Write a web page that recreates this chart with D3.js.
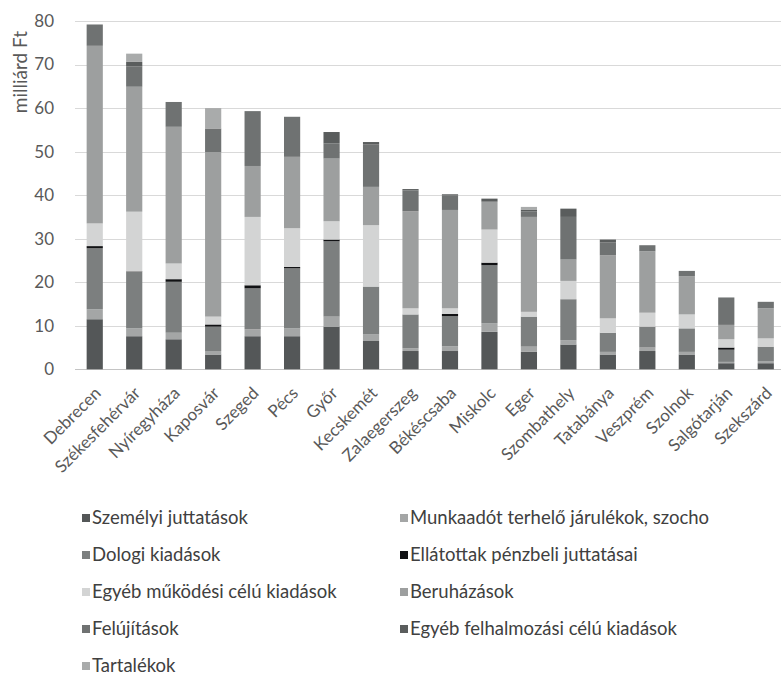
<!DOCTYPE html>
<html>
<head>
<meta charset="utf-8">
<script src="https://cdn.jsdelivr.net/npm/d3@7"></script>
<style>
  html, body { margin: 0; padding: 0; background: #ffffff; }
  svg { display: block; }
  text { font-family: Lato, "Open Sans", "Noto Sans", sans-serif; }
</style>
</head>
<body>
<svg id="chart" width="781" height="676"></svg>
<script>
// Cities (x axis)
const cities = ["Debrecen", "Székesfehérvár", "Nyíregyháza", "Kaposvár", "Szeged", "Pécs", "Győr",
  "Kecskemét", "Zalaegerszeg", "Békéscsaba", "Miskolc", "Eger", "Szombathely", "Tatabánya",
  "Veszprém", "Szolnok", "Salgótarján", "Szekszárd"];

// Expenditure items, billion Ft, stacked bottom to top
const szemelyi      = [11.5, 7.6, 6.9, 3.4, 7.6, 7.6, 9.8, 6.5, 4.2, 4.2, 8.6, 4.0, 5.7, 3.4, 4.2, 3.4, 1.4, 1.4];
const munkaado      = [2.3, 1.8, 1.5, 0.8, 1.6, 1.8, 2.3, 1.5, 0.6, 1.1, 2.0, 1.2, 1.0, 0.6, 0.8, 0.6, 0.3, 0.5];
const dologi        = [14.0, 13.0, 11.7, 5.6, 9.4, 13.8, 17.3, 11.0, 7.8, 6.9, 13.3, 6.9, 9.4, 4.4, 4.8, 5.4, 2.8, 3.3];
const ellatottak    = [0.5, 0.1, 0.6, 0.5, 0.7, 0.3, 0.4, 0, 0, 0.5, 0.6, 0, 0, 0, 0, 0, 0.5, 0];
const egyebMukodesi = [5.2, 13.7, 3.6, 1.8, 15.7, 8.9, 4.2, 14.1, 1.4, 1.3, 7.6, 1.1, 4.2, 3.3, 3.2, 3.2, 1.9, 1.9];
const beruhazasok   = [40.8, 28.7, 31.4, 37.8, 11.7, 16.4, 14.4, 8.8, 22.3, 22.6, 6.4, 21.8, 4.9, 14.5, 14.1, 8.8, 3.3, 6.9];
const felujitasok   = [4.9, 4.7, 5.7, 5.1, 12.6, 9.2, 3.5, 9.8, 4.8, 3.3, 0, 1.3, 9.8, 2.9, 1.4, 1.2, 6.3, 1.5];
const egyebFelhalm  = [0, 1.0, 0, 0.3, 0, 0, 2.6, 0.5, 0.3, 0.3, 0.7, 0.4, 1.9, 0.7, 0, 0, 0, 0];
const tartalekok    = [0, 1.9, 0, 4.7, 0, 0, 0, 0, 0, 0, 0, 0.6, 0, 0, 0, 0, 0, 0];

const seriesNames = ["Személyi juttatások", "Munkaadót terhelő járulékok, szocho", "Dologi kiadások",
  "Ellátottak pénzbeli juttatásai", "Egyéb működési célú kiadások", "Beruházások", "Felújítások",
  "Egyéb felhalmozási célú kiadások", "Tartalékok"];
const seriesValues = [szemelyi, munkaado, dologi, ellatottak, egyebMukodesi, beruhazasok,
  felujitasok, egyebFelhalm, tartalekok];
const seriesColors = ["#545758", "#a4a6a6", "#7c7f7f", "#111214", "#d3d4d4", "#9d9f9f",
  "#6f7272", "#5a5d5d", "#a9abab"];

const yTicks = [0, 10, 20, 30, 40, 50, 60, 70, 80];
const yTitle = "milliárd Ft";

// Table for d3.stack
const table = cities.map((c, i) => {
  const row = { city: c };
  seriesNames.forEach((s, k) => { row[s] = seriesValues[k][i]; });
  return row;
});
const stacked = d3.stack().keys(seriesNames)(table);

const svg = d3.select("#chart");

const x = d3.scaleBand()
  .domain(cities)
  .range([75, 785.5])
  .paddingInner(0.59)
  .paddingOuter(0.295);

const y = d3.scaleLinear().domain([0, 80]).range([369.3, 21]);

// Gridlines
svg.append("g")
  .selectAll("line")
  .data(yTicks)
  .join("line")
  .attr("x1", 75).attr("x2", 781)
  .attr("y1", d => Math.round(y(d)) + 0.5)
  .attr("y2", d => Math.round(y(d)) + 0.5)
  .attr("stroke", d => d === 0 ? "#c4c4c4" : "#d9d9d9")
  .attr("stroke-width", 1);

// Y axis labels
const yAxis = d3.axisLeft(y).tickValues(yTicks).tickSize(0).tickPadding(0);
const yg = svg.append("g").attr("transform", "translate(54,0)").call(yAxis);
yg.select(".domain").remove();
yg.selectAll("text")
  .attr("fill", "#595959")
  .style("font-size", "17px")
  .style("font-family", "Lato, 'Open Sans', sans-serif");

// Y title
svg.append("text")
  .attr("transform", "translate(20,72) rotate(-90)")
  .attr("text-anchor", "middle")
  .attr("dy", "0.35em")
  .attr("fill", "#595959")
  .style("font-size", "19px")
  .text(yTitle);

// Bars
svg.append("g")
  .selectAll("g")
  .data(stacked)
  .join("g")
  .attr("fill", (d, i) => seriesColors[i])
  .selectAll("rect")
  .data(d => d)
  .join("rect")
  .attr("x", d => x(d.data.city))
  .attr("width", x.bandwidth())
  .attr("y", d => y(d[1]))
  .attr("height", d => Math.max(0, y(d[0]) - y(d[1])));

// X axis labels
const xAxis = d3.axisBottom(x).tickSize(0).tickPadding(0);
const xg = svg.append("g").attr("transform", "translate(0,390)").call(xAxis);
xg.select(".domain").remove();
xg.selectAll("text")
  .attr("fill", "#595959")
  .style("font-size", "17px")
  .style("font-family", "Lato, 'Open Sans', sans-serif")
  .attr("text-anchor", "end")
  .attr("y", 0)
  .attr("dy", "0.35em")
  .attr("transform", "translate(3,0) rotate(-45)");

// Legend
const legend = svg.append("g");
const legItems = legend.selectAll("g")
  .data(seriesNames)
  .join("g")
  .attr("transform", (d, i) => {
    const col = i % 2, row = Math.floor(i / 2);
    return `translate(${col === 0 ? 82 : 400},${518 + row * 37})`;
  });
legItems.append("rect")
  .attr("x", 0).attr("y", -4)
  .attr("width", 8).attr("height", 8)
  .attr("fill", (d, i) => seriesColors[i]);
legItems.append("text")
  .attr("x", 10)
  .attr("dy", "0.35em")
  .attr("fill", "#404040")
  .style("font-size", "18.5px")
  .text(d => d);
</script>
</body>
</html>
